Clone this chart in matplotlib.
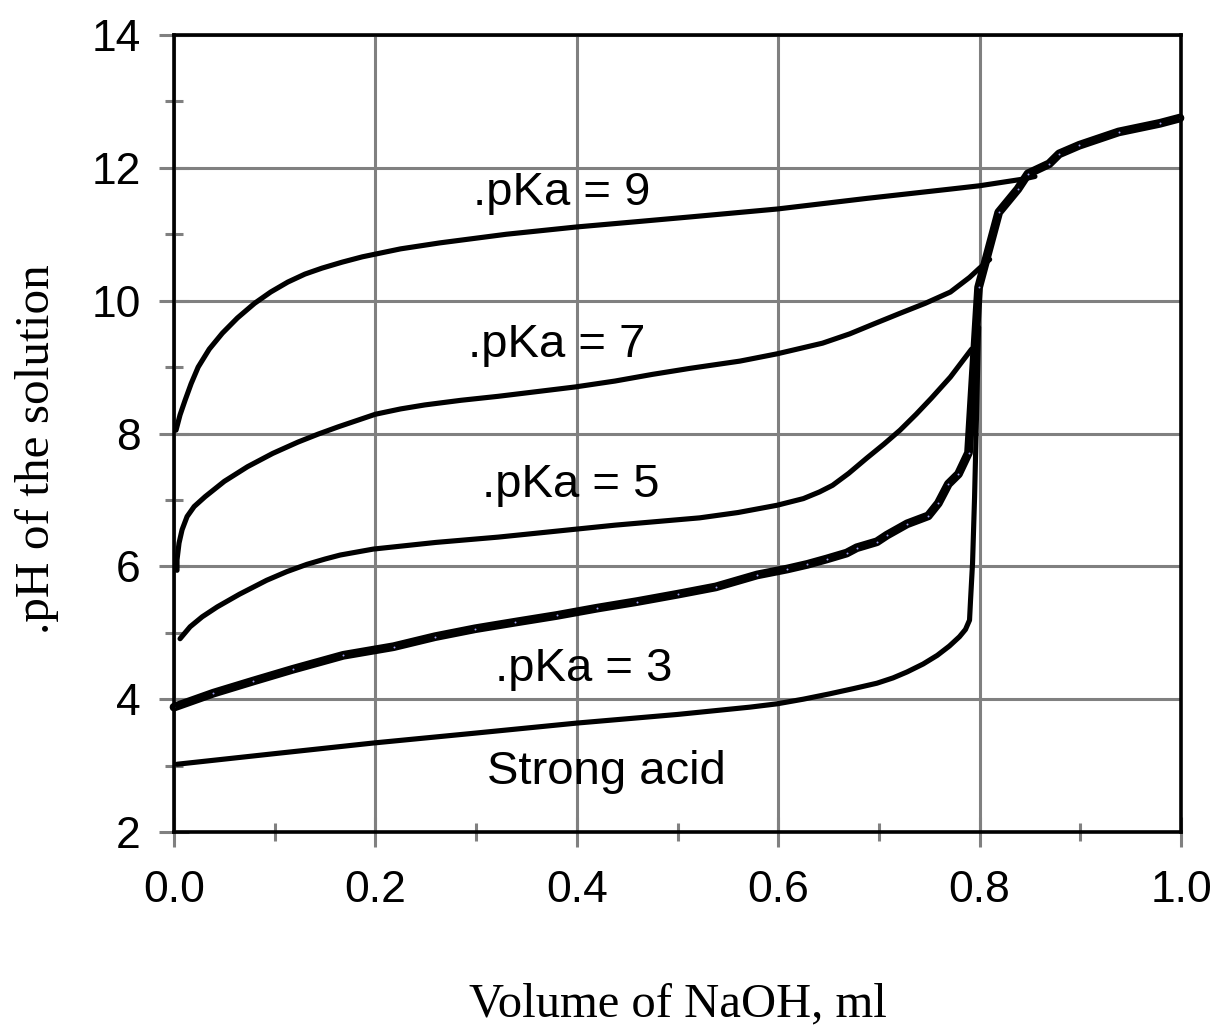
import matplotlib.pyplot as plt
from matplotlib.ticker import MultipleLocator

# titration curves (volume NaOH in ml, pH)
pka9_vol = [0.002, 0.006, 0.011, 0.017, 0.024, 0.035, 0.048, 0.063, 0.080, 0.096,
            0.113, 0.130, 0.147, 0.167, 0.187, 0.225, 0.264, 0.33, 0.40, 0.46,
            0.512, 0.599, 0.688, 0.771, 0.800, 0.843, 0.855]
pka9_ph = [8.05, 8.28, 8.50, 8.75, 9.00, 9.27, 9.51, 9.74, 9.96, 10.13,
           10.28, 10.40, 10.49, 10.58, 10.66, 10.78, 10.87, 11.00, 11.11, 11.19,
           11.26, 11.38, 11.54, 11.68, 11.73, 11.83, 11.87]

pka7_vol = [0.003, 0.003, 0.005, 0.008, 0.013, 0.020, 0.031, 0.050, 0.073, 0.098,
            0.123, 0.143, 0.163, 0.200, 0.225, 0.249, 0.285, 0.322, 0.36, 0.398,
            0.438, 0.475, 0.512, 0.562, 0.599, 0.644, 0.671, 0.695, 0.721, 0.746,
            0.771, 0.790, 0.800, 0.810]
pka7_ph = [5.94, 6.10, 6.35, 6.55, 6.75, 6.90, 7.05, 7.28, 7.50, 7.70,
           7.87, 7.99, 8.10, 8.29, 8.37, 8.43, 8.50, 8.56, 8.63, 8.70,
           8.79, 8.89, 8.98, 9.09, 9.20, 9.36, 9.50, 9.65, 9.81, 9.96,
           10.13, 10.35, 10.49, 10.62]

pka5_vol = [0.006, 0.016, 0.028, 0.043, 0.065, 0.092, 0.112, 0.132, 0.150, 0.165,
            0.198, 0.26, 0.322, 0.38, 0.438, 0.522, 0.56, 0.599, 0.625, 0.641,
            0.654, 0.670, 0.688, 0.705, 0.721, 0.737, 0.752, 0.771, 0.792]
pka5_ph = [4.91, 5.09, 5.24, 5.39, 5.58, 5.79, 5.92, 6.03, 6.11, 6.17,
           6.26, 6.36, 6.44, 6.53, 6.62, 6.73, 6.81, 6.92, 7.02, 7.12,
           7.22, 7.40, 7.63, 7.84, 8.05, 8.29, 8.53, 8.85, 9.27]

pka3_vol = [0.0, 0.039, 0.078, 0.118, 0.168, 0.218, 0.259, 0.299, 0.339, 0.38,
            0.42, 0.46, 0.50, 0.538, 0.579, 0.609, 0.629, 0.648, 0.668, 0.678,
            0.698, 0.708, 0.728, 0.749, 0.759, 0.769, 0.779, 0.789, 0.799, 0.819,
            0.838, 0.848, 0.869, 0.879, 0.899, 0.938, 0.979, 0.999]
pka3_ph = [3.88, 4.09, 4.27, 4.45, 4.66, 4.79, 4.94, 5.06, 5.16, 5.26,
           5.37, 5.47, 5.58, 5.69, 5.87, 5.96, 6.03, 6.11, 6.20, 6.28,
           6.37, 6.47, 6.64, 6.76, 6.95, 7.24, 7.39, 7.71, 10.20, 11.33,
           11.68, 11.91, 12.06, 12.21, 12.34, 12.54, 12.67, 12.75]

strong_vol = [0.003, 0.1, 0.198, 0.30, 0.40, 0.50, 0.572, 0.599, 0.625, 0.651,
              0.675, 0.698, 0.714, 0.728, 0.744, 0.758, 0.770, 0.780, 0.786, 0.790,
              0.791, 0.793, 0.795, 0.797, 0.799]
strong_ph = [3.02, 3.18, 3.34, 3.49, 3.64, 3.77, 3.88, 3.93, 4.00, 4.08,
             4.16, 4.24, 4.32, 4.41, 4.53, 4.66, 4.80, 4.94, 5.05, 5.19,
             5.49, 6.05, 7.04, 8.31, 9.60]

curve_labels = ['.pKa = 9', '.pKa = 7', '.pKa = 5', '.pKa = 3', 'Strong acid']
label_x = [0.297, 0.292, 0.306, 0.319, 0.311]
label_ph = [11.44, 9.15, 7.05, 4.27, 2.73]

SANS = 'Liberation Sans'
SERIF = 'Liberation Serif'
GREY = '#808080'

fig = plt.figure(figsize=(12.11, 10.28), dpi=100)
ax = fig.add_axes([174 / 1211, 1 - 832 / 1028, 1007 / 1211, 797 / 1028])

line_kw = dict(color='black', lw=3.7, solid_capstyle='round', solid_joinstyle='round')
ax.plot(pka9_vol, pka9_ph, **line_kw)
ax.plot(pka7_vol, pka7_ph, **line_kw)
ax.plot(pka5_vol, pka5_ph, **line_kw)
ax.plot(strong_vol, strong_ph, **line_kw)
# the pKa 3 curve is drawn heavier, with tiny point markers on it
ax.plot(pka3_vol, pka3_ph, color='black', lw=6.3, solid_capstyle='round',
        solid_joinstyle='round', clip_on=False)
ax.plot(pka3_vol, pka3_ph, ls='none', marker='o', ms=1.4, mfc='#9a9af0',
        mec='none', clip_on=False)

for txt, x, y in zip(curve_labels, label_x, label_ph):
    ax.text(x, y, txt, fontsize=34, family=SANS, ha='left', va='baseline')

ax.set_xlim(0, 1.0)
ax.set_ylim(2, 14)
ax.xaxis.set_major_locator(MultipleLocator(0.2))
ax.xaxis.set_minor_locator(MultipleLocator(0.1))
ax.yaxis.set_major_locator(MultipleLocator(2))
ax.yaxis.set_minor_locator(MultipleLocator(1))
ax.xaxis.set_major_formatter(plt.FuncFormatter(lambda v, p: '%.1f' % v))
ax.yaxis.set_major_formatter(plt.FuncFormatter(lambda v, p: '%d' % round(v)))

ax.grid(which='major', color=GREY, lw=2.2)
ax.tick_params(which='major', direction='inout', length=22, width=2.2, color=GREY,
               labelsize=32)
ax.tick_params(which='minor', direction='inout', length=13, width=2.2, color=GREY)
ax.tick_params(axis='x', which='major', pad=16)
ax.tick_params(axis='y', which='major', pad=13)
for lab in ax.get_xticklabels() + ax.get_yticklabels():
    lab.set_family(SANS)

for sp in ax.spines.values():
    sp.set_color('black')
    sp.set_linewidth(2.6)

ax.set_xlabel('Volume of NaOH, ml', fontsize=35, family=SERIF, va='baseline')
ax.xaxis.set_label_coords(0.5, -0.231)
ax.set_ylabel('.pH of the solution', fontsize=35.5, family=SERIF, va='center')
ax.yaxis.set_label_coords(-0.136, 0.48)

fig.savefig('out.png', dpi=100)
